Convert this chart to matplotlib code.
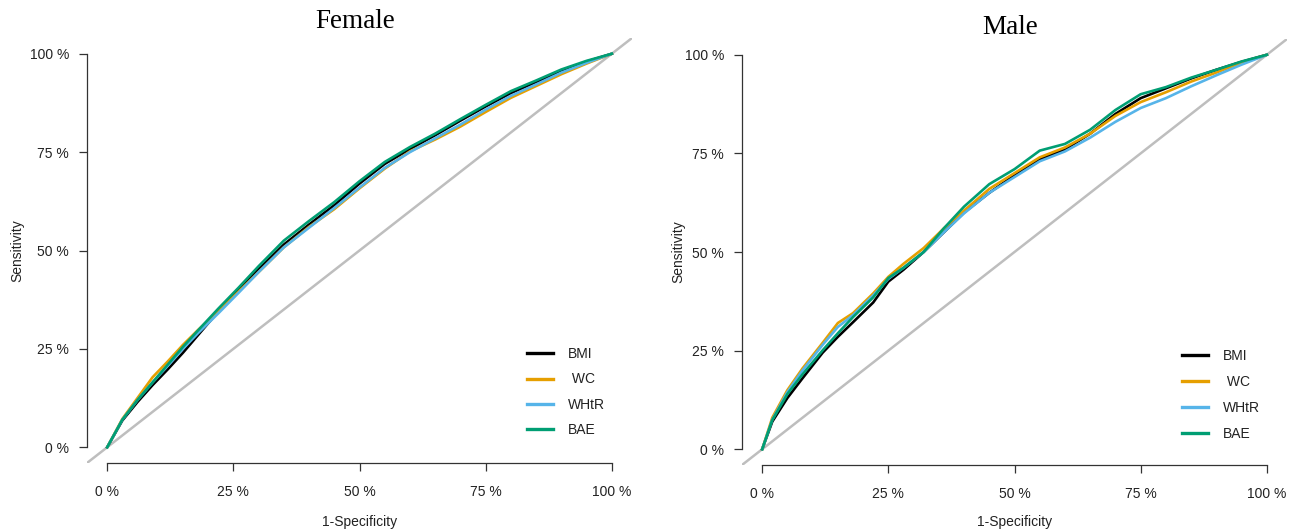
import matplotlib
matplotlib.use("Agg")
import matplotlib.pyplot as plt
from matplotlib.ticker import FixedLocator, FuncFormatter

plt.rcParams['font.family'] = ['Liberation Sans', 'DejaVu Sans']

# ROC curves: 1-specificity vs sensitivity
fem_fpr = [0, 0.03, 0.06, 0.09, 0.12, 0.15, 0.18, 0.22, 0.26, 0.30, 0.35, 0.40,
           0.45, 0.50, 0.55, 0.60, 0.65, 0.70, 0.75, 0.80, 0.85, 0.90, 0.95, 1.0]
fem_bmi = [0, 0.068, 0.115, 0.158, 0.198, 0.240, 0.285, 0.345, 0.400, 0.452, 0.515, 0.566,
           0.615, 0.670, 0.720, 0.758, 0.793, 0.830, 0.866, 0.900, 0.928, 0.956, 0.980, 1.0]
fem_wc = [0, 0.072, 0.125, 0.178, 0.218, 0.260, 0.298, 0.345, 0.395, 0.445, 0.508, 0.560,
          0.605, 0.658, 0.708, 0.752, 0.782, 0.815, 0.852, 0.888, 0.918, 0.948, 0.975, 1.0]
fem_whtr = [0, 0.070, 0.120, 0.165, 0.207, 0.250, 0.290, 0.340, 0.392, 0.445, 0.508, 0.558,
            0.608, 0.660, 0.710, 0.750, 0.785, 0.820, 0.858, 0.893, 0.922, 0.952, 0.977, 1.0]
fem_bae = [0, 0.070, 0.120, 0.165, 0.210, 0.255, 0.297, 0.352, 0.405, 0.460, 0.525, 0.575,
           0.623, 0.676, 0.725, 0.763, 0.797, 0.834, 0.870, 0.905, 0.932, 0.960, 0.982, 1.0]

male_fpr = [0, 0.02, 0.05, 0.08, 0.12, 0.15, 0.18, 0.22, 0.25, 0.28, 0.32, 0.36, 0.40,
            0.45, 0.50, 0.55, 0.60, 0.65, 0.70, 0.75, 0.80, 0.85, 0.90, 0.95, 1.0]
male_bmi = [0, 0.070, 0.130, 0.180, 0.245, 0.285, 0.322, 0.372, 0.425, 0.455, 0.500, 0.550, 0.600,
            0.650, 0.695, 0.735, 0.760, 0.800, 0.850, 0.890, 0.915, 0.940, 0.962, 0.982, 1.0]
male_wc = [0, 0.080, 0.150, 0.205, 0.270, 0.320, 0.345, 0.395, 0.437, 0.470, 0.510, 0.560, 0.605,
           0.660, 0.700, 0.740, 0.765, 0.800, 0.845, 0.880, 0.905, 0.932, 0.955, 0.980, 1.0]
male_whtr = [0, 0.075, 0.145, 0.200, 0.265, 0.310, 0.340, 0.390, 0.432, 0.460, 0.500, 0.550, 0.598,
             0.650, 0.690, 0.730, 0.755, 0.790, 0.830, 0.865, 0.890, 0.920, 0.948, 0.975, 1.0]
male_bae = [0, 0.074, 0.140, 0.190, 0.251, 0.294, 0.335, 0.385, 0.434, 0.460, 0.500, 0.560, 0.615,
            0.672, 0.710, 0.757, 0.774, 0.810, 0.860, 0.900, 0.918, 0.942, 0.962, 0.983, 1.0]

labels = ['BMI', ' WC', 'WHtR', 'BAE']
colors = ['#000000', '#E69F00', '#56B4E9', '#009E73']
ticks = [0, 0.25, 0.5, 0.75, 1.0]

fig = plt.figure(figsize=(12.99, 5.32), dpi=100)
ax1 = fig.add_axes([87 / 1299, 1 - 463 / 532, 545 / 1299, 425 / 532])
ax2 = fig.add_axes([742 / 1299, 1 - 465 / 532, 545 / 1299, 426 / 532])

panels = [
    (ax1, 'Female', fem_fpr, [fem_bmi, fem_wc, fem_whtr, fem_bae], (0.492, 1.038), -0.127, -0.139, 0.273, 0.82),
    (ax2, 'Male', male_fpr, [male_bmi, male_wc, male_whtr, male_bae], (0.492, 1.028), -0.117, -0.134, 0.272, 0.86),
]

pct = FuncFormatter(lambda v, p: f"{v * 100:.0f} %")

for ax, title, fpr, curves, tpos, ylx, xly, legy, lsp in panels:
    ax.set_xlim(-0.04, 1.04)
    ax.set_ylim(-0.04, 1.04)
    ax.axline((0, 0), (1, 1), color='#BEBEBE', lw=1.8, zorder=1)
    for sens, lab, col in zip(curves, labels, colors):
        ax.plot(fpr, sens, color=col, lw=1.9, label=lab, zorder=2)

    for s in ['top', 'right']:
        ax.spines[s].set_visible(False)
    for s in ['left', 'bottom']:
        ax.spines[s].set_bounds(0, 1)
        ax.spines[s].set_color('#333333')
        ax.spines[s].set_linewidth(0.9)
    ax.xaxis.set_major_locator(FixedLocator(ticks))
    ax.yaxis.set_major_locator(FixedLocator(ticks))
    ax.xaxis.set_major_formatter(pct)
    ax.yaxis.set_major_formatter(pct)
    ax.tick_params(axis='both', direction='out', length=6, width=0.9,
                   color='#333333', labelsize=10, labelcolor='#222222')
    ax.tick_params(axis='x', pad=10)
    ax.tick_params(axis='y', pad=7)

    ax.set_xlabel('1-Specificity', fontsize=10, color='#222222', va='center')
    ax.set_ylabel('Sensitivity', fontsize=10, color='#222222', va='center')
    ax.xaxis.set_label_coords(0.5, xly)
    ax.yaxis.set_label_coords(ylx, 0.5)

    ax.text(tpos[0], tpos[1], title, transform=ax.transAxes, ha='center', va='center',
            fontsize=19.5, family='Liberation Serif')

    leg = ax.legend(loc='upper left', bbox_to_anchor=(0.807, legy), frameon=False,
                    fontsize=10, handlelength=1.87, handletextpad=1.08,
                    labelspacing=lsp, borderpad=0, borderaxespad=0)
    for h in leg.get_lines():
        h.set_linewidth(2.4)
    for t in leg.get_texts():
        t.set_color('#222222')

fig.savefig('out.png', dpi=100)
